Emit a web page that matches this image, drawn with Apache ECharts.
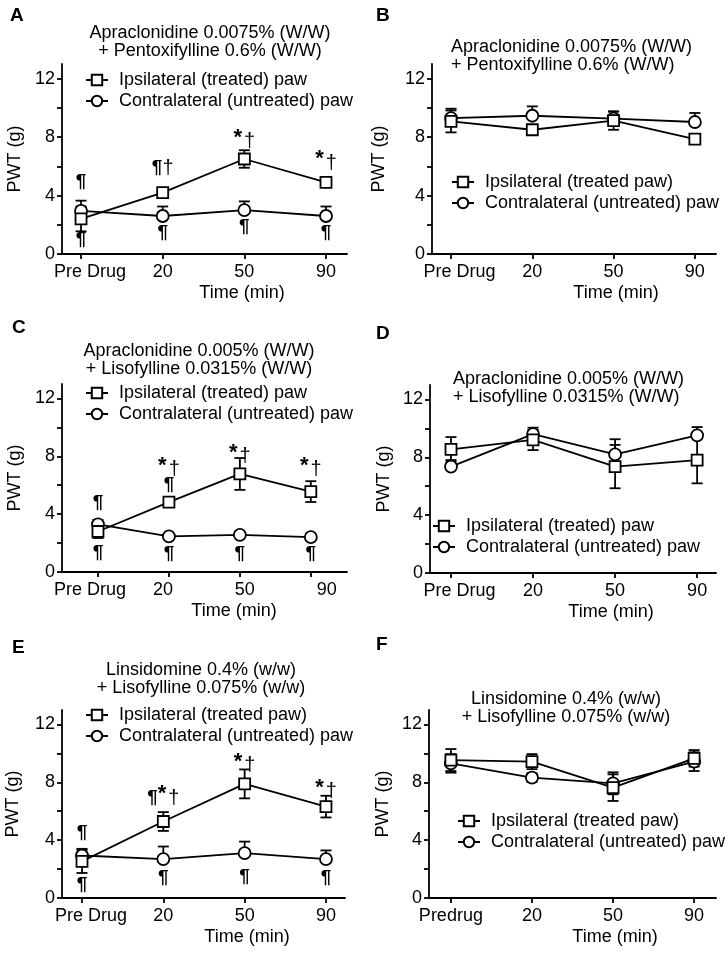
<!DOCTYPE html>
<html><head><meta charset="utf-8">
<script src="https://cdn.jsdelivr.net/npm/echarts@6/dist/echarts.min.js"></script>
<style>html,body{margin:0;padding:0;background:#fff}#c{width:728px;height:958px}</style>
</head><body><div id="c"></div>
<script>
// ---------- data ----------
const timeCats = ['Pre Drug', '20', '50', '90'];
const timeCatsF = ['Predrug', '20', '50', '90'];
const yLabelTicks = [0, 4, 8, 12];
const yAllTicks = [0, 2, 4, 6, 8, 10, 12];

const titleAB = 'Apraclonidine 0.0075% (W/W)\n+ Pentoxifylline 0.6% (W/W)';
const titleCD = 'Apraclonidine 0.005% (W/W)\n+ Lisofylline 0.0315% (W/W)';
const titleEF = 'Linsidomine 0.4% (w/w)\n+ Lisofylline 0.075% (w/w)';
const ipsiNameA = 'Ipsilateral (treated) paw';
const ipsiNameB = 'Ipsilateral (treated paw)';
const contraName = 'Contralateral (untreated) paw';

// Panel A
const aIpsiMean = [2.4, 4.2, 6.5, 4.9];
const aIpsiUp = [0.85, 0.15, 0.6, 0.2];
const aIpsiDown = [0.85, 0.15, 0.6, 0.2];
const aContraMean = [2.95, 2.6, 3.0, 2.6];
const aContraUp = [0.7, 0.65, 0.6, 0.65];
const aContraDown = [0, 0, 0, 0];
const aNotes = [[0, 4.96, '¶'], [0, 0.96, '¶'], [1, 5.87, '¶†'], [1, 1.42, '¶'], [2, 7.7, '*†'], [2, 1.87, '¶'], [3, 6.2, '*†'], [3, 1.42, '¶']];

// Panel B
const bIpsiMean = [9.07, 8.5, 9.12, 7.86];
const bIpsiUp = [0.75, 0.1, 0.62, 0.26];
const bIpsiDown = [0.75, 0.1, 0.62, 0.26];
const bContraMean = [9.3, 9.46, 9.26, 9.03];
const bContraUp = [0.64, 0.64, 0.5, 0.62];
const bContraDown = [0, 0, 0, 0];
const bNotes = [];

// Panel C
const cIpsiMean = [2.8, 4.83, 6.78, 5.56];
const cIpsiUp = [0.45, 0.12, 1.1, 0.72];
const cIpsiDown = [0.45, 0.12, 1.1, 0.72];
const cContraMean = [3.3, 2.46, 2.57, 2.41];
const cContraUp = [0.3, 0.05, 0.05, 0.05];
const cContraDown = [0, 0, 0, 0];
const cNotes = [[0, 4.76, '¶'], [0, 1.36, '¶'], [1, 7.06, '*†'], [1, 6.02, '¶'], [1, 1.24, '¶'], [2, 7.98, '*†'], [2, 1.24, '¶'], [3, 7.06, '*†'], [3, 1.24, '¶']];

// Panel D
const dIpsiMean = [8.55, 9.2, 7.36, 7.8];
const dIpsiUp = [0.85, 0.7, 1.5, 1.6];
const dIpsiDown = [0.85, 0.7, 1.5, 1.6];
const dContraMean = [7.36, 9.6, 8.2, 9.52];
const dContraUp = [0.45, 0.45, 1.05, 0.57];
const dContraDown = [0, 0, 0, 0];
const dNotes = [];

// Panel E
const eIpsiMean = [2.53, 5.29, 7.89, 6.32];
const eIpsiUp = [0.8, 0.65, 1.0, 0.75];
const eIpsiDown = [0.8, 0.65, 1.0, 0.75];
const eContraMean = [2.94, 2.69, 3.1, 2.69];
const eContraUp = [0.46, 0.87, 0.8, 0.6];
const eContraDown = [0, 0, 0, 0];
const eNotes = [[0, 4.48, '¶'], [0, 0.92, '¶'], [1, 6.9, '¶*†'], [1, 1.43, '¶'], [2, 9.13, '*†'], [2, 1.49, '¶'], [3, 7.36, '*†'], [3, 1.38, '¶']];

// Panel F
const fIpsiMean = [9.54, 9.43, 7.63, 9.66];
const fIpsiUp = [0.76, 0.52, 0.92, 0.57];
const fIpsiDown = [0.76, 0.52, 0.92, 0.57];
const fContraMean = [9.31, 8.32, 7.93, 9.43];
const fContraUp = [0.64, 0.3, 0.76, 0.65];
const fContraDown = [0.64, 0.3, 0.76, 0.65];
const fNotes = [];

// ---------- layout ----------
const FONT = '"Liberation Sans", Arial, Helvetica, sans-serif';
const panels = [
  {letter: 'A', title: titleAB, cats: timeCats, ipsiName: ipsiNameA,
   ipsi: [aIpsiMean, aIpsiUp, aIpsiDown], contra: [aContraMean, aContraUp, aContraDown], notes: aNotes,
   g: {left: 62, top: 64, width: 285, height: 190}, xMin: -0.233, xMax: 3.257, labShift: [9, 0, 0, 0],
   t: {left: 210, top: 24, align: 'center'}, l: {left: 10, top: 6}, leg: {left: 85, top: 70}, xNameX: 242, yNameGap: 38},
  {letter: 'B', title: titleAB, cats: timeCats, ipsiName: ipsiNameB,
   ipsi: [bIpsiMean, bIpsiUp, bIpsiDown], contra: [bContraMean, bContraUp, bContraDown], notes: bNotes,
   g: {left: 432, top: 64, width: 284, height: 190}, xMin: -0.234, xMax: 3.26, labShift: [8.5, 0, 0, 0],
   t: {left: 451, top: 38, align: 'left'}, l: {left: 376, top: 6}, leg: {left: 451, top: 172}, xNameX: 616, yNameGap: 44},
  {letter: 'C', title: titleCD, cats: timeCats, ipsiName: ipsiNameA,
   ipsi: [cIpsiMean, cIpsiUp, cIpsiDown], contra: [cContraMean, cContraUp, cContraDown], notes: cNotes,
   g: {left: 62, top: 384, width: 285, height: 188}, xMin: -0.507, xMax: 3.51, labShift: [-8, -6, 5, 16],
   t: {left: 199, top: 342, align: 'center'}, l: {left: 12, top: 318}, leg: {left: 85, top: 383}, xNameX: 234, yNameGap: 38},
  {letter: 'D', title: titleCD, cats: timeCats, ipsiName: ipsiNameA,
   ipsi: [dIpsiMean, dIpsiUp, dIpsiDown], contra: [dContraMean, dContraUp, dContraDown], notes: dNotes,
   g: {left: 430, top: 385, width: 286, height: 188}, xMin: -0.256, xMax: 3.23, labShift: [8.5, 0, 0, 0],
   t: {left: 453, top: 370, align: 'left'}, l: {left: 376, top: 324}, leg: {left: 432, top: 516}, xNameX: 611, yNameGap: 37},
  {letter: 'E', title: titleEF, cats: timeCats, ipsiName: ipsiNameB,
   ipsi: [eIpsiMean, eIpsiUp, eIpsiDown], contra: [eContraMean, eContraUp, eContraDown], notes: eNotes,
   g: {left: 62, top: 710, width: 283, height: 188}, xMin: -0.246, xMax: 3.234, labShift: [9, 0, 0, 0],
   t: {left: 201, top: 661, align: 'center'}, l: {left: 12, top: 638}, leg: {left: 85, top: 705}, xNameX: 247, yNameGap: 40},
  {letter: 'F', title: titleEF, cats: timeCatsF, ipsiName: ipsiNameB,
   ipsi: [fIpsiMean, fIpsiUp, fIpsiDown], contra: [fContraMean, fContraUp, fContraDown], notes: fNotes,
   g: {left: 429, top: 710, width: 287, height: 188}, xMin: -0.27, xMax: 3.27, labShift: [0, 0, 0, 0],
   t: {left: 566, top: 690, align: 'center'}, l: {left: 376, top: 635}, leg: {left: 457, top: 811}, xNameX: 615, yNameGap: 37}
];

const BLACK = '#000';
const LW = 1.8;
const TXT = {fontSize: 18, color: BLACK, fontFamily: FONT};

function errSeries(i, arr, nm) {
  const [mean, up, down] = arr;
  return {
    type: 'custom', name: nm, xAxisIndex: i, yAxisIndex: i, z: 1, silent: true,
    data: mean.map((m, k) => [k, m, up[k], down[k]]),
    renderItem: function (params, api) {
      const x = api.value(0), m = api.value(1), u = api.value(2), d = api.value(3);
      const top = api.coord([x, m + u]);
      const bot = api.coord([x, m - d]);
      const hw = 5.5;
      const st = {stroke: BLACK, lineWidth: LW};
      const ch = [{type: 'line', shape: {x1: top[0], y1: top[1], x2: bot[0], y2: bot[1]}, style: st}];
      if (u > 0) ch.push({type: 'line', shape: {x1: top[0] - hw, y1: top[1], x2: top[0] + hw, y2: top[1]}, style: st});
      if (d > 0) ch.push({type: 'line', shape: {x1: bot[0] - hw, y1: bot[1], x2: bot[0] + hw, y2: bot[1]}, style: st});
      return {type: 'group', children: ch};
    }
  };
}

function lineSeries(i, arr, nm, sym, size) {
  return {
    type: 'line', name: nm, xAxisIndex: i, yAxisIndex: i, z: 3,
    data: arr[0].map((m, k) => [k, m]),
    symbol: sym, symbolSize: size, showSymbol: true,
    lineStyle: {color: BLACK, width: LW},
    itemStyle: {color: '#fff', borderColor: BLACK, borderWidth: LW},
    emphasis: {disabled: true}
  };
}

function noteRich(s) {
  return s.replace(/¶/g, '{p|¶}').replace(/\*/g, '{s|*}').replace(/†/g, '{d|†}');
}

const grid = [], xAxis = [], yAxis = [], series = [], title = [], legend = [];
panels.forEach((p, i) => {
  grid.push(Object.assign({containLabel: false}, p.g));
  const axisCenter = p.g.left + p.g.width / 2;
  const shift = p.xNameX - axisCenter;
  const rich = {};
  p.labShift.forEach((s, k) => {
    rich['o' + k] = Object.assign({}, TXT, {padding: s >= 0 ? [0, 0, 0, 2 * s] : [0, -2 * s, 0, 0]});
  });
  xAxis.push({
    gridIndex: i, type: 'value', min: p.xMin, max: p.xMax,
    name: 'Time (min)', nameLocation: 'middle', nameGap: 30,
    nameTextStyle: Object.assign({}, TXT, {padding: shift >= 0 ? [0, 0, 0, 2 * shift] : [0, -2 * shift, 0, 0]}),
    axisLine: {show: true, onZero: false, lineStyle: {color: BLACK, width: LW}},
    axisTick: {show: true, length: 5, lineStyle: {color: BLACK, width: LW}, customValues: [0, 1, 2, 3]},
    axisLabel: Object.assign({}, TXT, {margin: 9, customValues: [0, 1, 2, 3], rich: rich,
      formatter: (v) => { const k = Math.round(v); return '{o' + k + '|' + p.cats[k] + '}'; }}),
    splitLine: {show: false}
  });
  yAxis.push({
    gridIndex: i, type: 'value', min: 0, max: 13,
    name: 'PWT (g)', nameLocation: 'middle', nameGap: p.yNameGap,
    nameTextStyle: TXT,
    axisLine: {show: true, onZero: false, lineStyle: {color: BLACK, width: LW}},
    axisTick: {show: true, length: 5, lineStyle: {color: BLACK, width: LW}, customValues: yAllTicks},
    axisLabel: Object.assign({}, TXT, {margin: 7, customValues: yLabelTicks}),
    splitLine: {show: false}
  });
  series.push(errSeries(i, p.contra, 'errC' + i));
  series.push(errSeries(i, p.ipsi, 'errI' + i));
  series.push(lineSeries(i, p.contra, contraName, 'circle', 12));
  series.push(lineSeries(i, p.ipsi, p.ipsiName, 'rect', 11));
  if (p.notes.length) {
    series.push({
      type: 'scatter', name: 'notes' + i, xAxisIndex: i, yAxisIndex: i, z: 5, silent: true,
      symbolSize: 1, itemStyle: {opacity: 0},
      data: p.notes.map(n => ({value: [n[0], n[1]], name: noteRich(n[2])})),
      label: {show: true, position: 'inside', formatter: '{b}', color: BLACK, opacity: 1,
        rich: {
          p: {fontSize: 19, fontWeight: 'bold', color: BLACK, fontFamily: FONT},
          s: {fontSize: 22, fontWeight: 'bold', color: BLACK, fontFamily: FONT, padding: [0, 2, 8, 0]},
          d: {fontSize: 20, color: BLACK, fontFamily: FONT}
        }}
    });
  }
  title.push({
    text: p.title, left: p.t.left, top: p.t.top, textAlign: p.t.align, padding: 0,
    textStyle: Object.assign({}, TXT, {fontWeight: 'normal', lineHeight: 18})
  });
  title.push({
    text: p.letter, left: p.l.left, top: p.l.top, padding: 0,
    textStyle: {fontSize: 19, fontWeight: 'bold', color: BLACK, fontFamily: FONT}
  });
  legend.push({
    orient: 'vertical', left: p.leg.left, top: p.leg.top, padding: 0,
    itemWidth: 22, itemHeight: 13, itemGap: 1, selectedMode: false,
    data: [p.ipsiName, contraName],
    textStyle: Object.assign({}, TXT, {lineHeight: 20, padding: [0, 0, 0, 6]})
  });
});

const chart = echarts.init(document.getElementById('c'), null, {renderer: 'canvas'});
chart.setOption({
  animation: false,
  backgroundColor: '#fff',
  title, legend, grid, xAxis, yAxis, series
});
</script>
</body></html>
